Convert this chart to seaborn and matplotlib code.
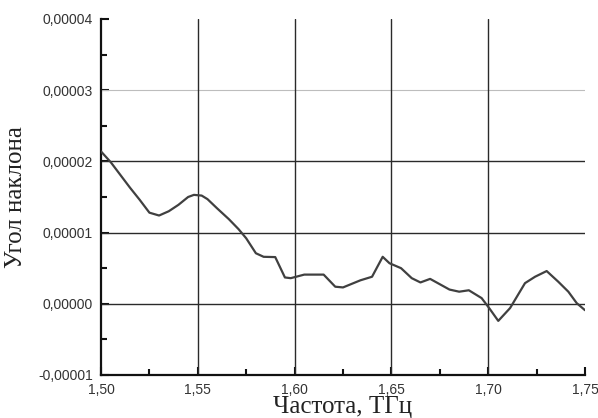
import numpy as np
import pandas as pd
import matplotlib
matplotlib.use("Agg")
import matplotlib.pyplot as plt
from matplotlib.ticker import FixedLocator, FuncFormatter, MultipleLocator
import seaborn as sns

# Frequency, THz
freq = [1.500, 1.505, 1.510, 1.515, 1.520, 1.525, 1.530, 1.535, 1.540, 1.545,
        1.548, 1.552, 1.555, 1.560, 1.566, 1.571, 1.575, 1.580, 1.584, 1.590,
        1.595, 1.598, 1.605, 1.615, 1.621, 1.625, 1.634, 1.640, 1.6455, 1.649,
        1.655, 1.6605, 1.665, 1.670, 1.680, 1.685, 1.690, 1.6966, 1.7005, 1.7052,
        1.7113, 1.719, 1.7242, 1.7302, 1.7362, 1.7414, 1.7457, 1.750]
# Slope angle, in units of 1e-5
slope_e5 = [2.14, 1.99, 1.81, 1.63, 1.46, 1.28, 1.24, 1.30, 1.39, 1.50,
            1.53, 1.52, 1.47, 1.34, 1.19, 1.05, 0.92, 0.71, 0.66, 0.656,
            0.37, 0.36, 0.41, 0.41, 0.24, 0.23, 0.33, 0.38, 0.66, 0.57,
            0.50, 0.36, 0.30, 0.35, 0.20, 0.17, 0.19, 0.08, -0.06, -0.24,
            -0.06, 0.29, 0.38, 0.46, 0.31, 0.17, 0.01, -0.09]

x_ticks = [1.50, 1.55, 1.60, 1.65, 1.70, 1.75]
y_ticks = [-0.00001, 0.0, 0.00001, 0.00002, 0.00003, 0.00004]
x_label = "Частота, ТГц"
y_label = "Угол наклона"

df = pd.DataFrame({"freq": freq, "slope": np.array(slope_e5) * 1e-5})

sns.set_style("white")
plt.rcParams["font.family"] = ["Liberation Sans", "DejaVu Sans"]

fig = plt.figure(figsize=(5.98, 4.18), dpi=100)
ax = fig.add_axes([101 / 598, 1 - 375 / 418, (585 - 101) / 598, (375 - 19) / 418])

# grid lines
for v in [0.0, 0.00001, 0.00002]:
    ax.axhline(v, color="#2a2a2a", lw=1.0, zorder=1)
ax.axhline(0.00003, color="#bdbdbd", lw=0.8, zorder=1)
for v in [1.55, 1.60, 1.65, 1.70]:
    ax.axvline(v, color="#2a2a2a", lw=1.0, zorder=1)

sns.lineplot(data=df, x="freq", y="slope", ax=ax, color="#404040", lw=1.6,
             zorder=3, sort=False)

ax.set_xlim(1.50, 1.75)
ax.set_ylim(-0.00001, 0.00004)
ax.xaxis.set_major_locator(FixedLocator(x_ticks))
ax.yaxis.set_major_locator(FixedLocator(y_ticks))
ax.xaxis.set_minor_locator(MultipleLocator(0.025))
ax.yaxis.set_minor_locator(MultipleLocator(0.000005))
ax.xaxis.set_major_formatter(FuncFormatter(lambda v, p: f"{v:.2f}".replace(".", ",")))
ax.yaxis.set_major_formatter(FuncFormatter(
    lambda v, p: f"{v:.5f}".replace(".", ",") if abs(v) > 1e-12 else "0,00000"))

for s in ["top", "right"]:
    ax.spines[s].set_visible(False)
for s in ["left", "bottom"]:
    ax.spines[s].set_color("#111111")
    ax.spines[s].set_linewidth(1.6)

ax.tick_params(which="major", direction="in", length=6, width=1.5,
               color="#111111", labelsize=10, labelcolor="#333333", pad=6)
ax.tick_params(which="minor", direction="in", length=4, width=1.5, color="#111111")
ax.tick_params(axis="x", which="both", bottom=True, top=False)
ax.tick_params(axis="y", which="both", left=True, right=False)

ax.set_xlabel("")
ax.set_ylabel(y_label, family=["Liberation Serif", "DejaVu Serif"], fontsize=18,
              color="#222222")
ax.yaxis.set_label_coords(-(101 - 27) / 484, 0.50)
fig.text(343 / 598, 5 / 418, x_label, family=["Liberation Serif", "DejaVu Serif"],
         fontsize=18, color="#222222", ha="center", va="baseline")

fig.savefig("out.png", dpi=100)
